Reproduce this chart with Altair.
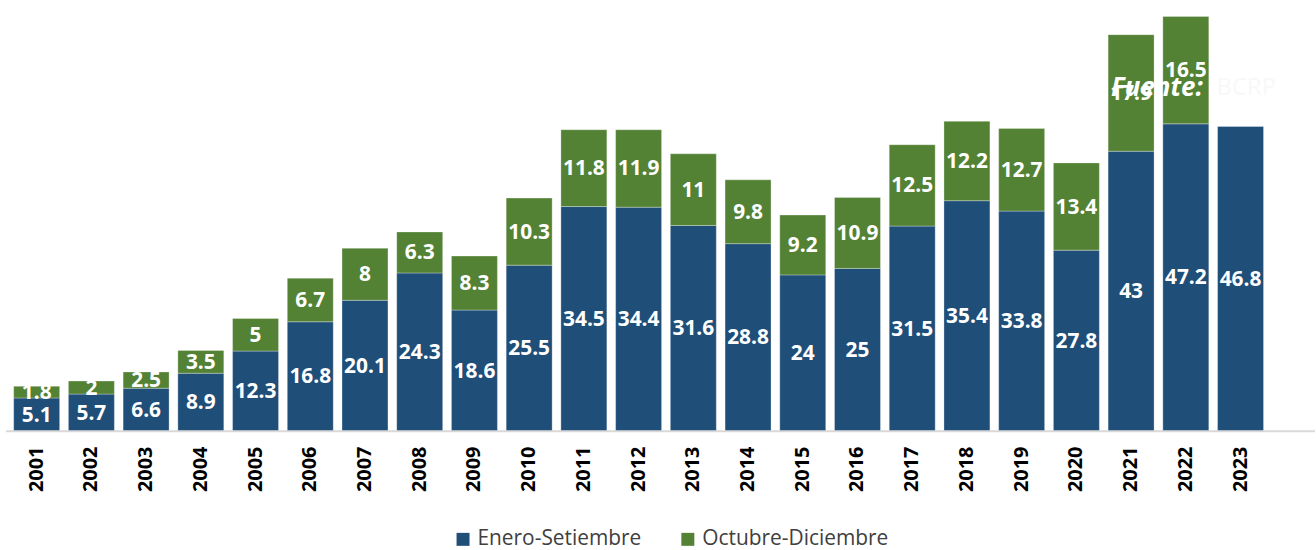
import altair as alt
import pandas as pd

years = [str(y) for y in range(2001, 2024)]
enero = [5.1, 5.7, 6.6, 8.9, 12.3, 16.8, 20.1, 24.3, 18.6, 25.5, 34.5, 34.4, 31.6,
         28.8, 24, 25, 31.5, 35.4, 33.8, 27.8, 43, 47.2, 46.8]
octdic = [1.8, 2, 2.5, 3.5, 5, 6.7, 8, 6.3, 8.3, 10.3, 11.8, 11.9, 11, 9.8, 9.2,
          10.9, 12.5, 12.2, 12.7, 13.4, 17.9, 16.5, None]
series = ["Enero-Setiembre", "Octubre-Diciembre"]
colors = ["#1F4E79", "#548235"]

rows = []
for i, y in enumerate(years):
    rows.append({"year": y, "serie": series[0], "ord": 0, "value": enero[i],
                 "label": f"{enero[i]:g}"})
    if octdic[i] is not None:
        rows.append({"year": y, "serie": series[1], "ord": 1, "value": octdic[i],
                     "label": f"{octdic[i]:g}"})
df = pd.DataFrame(rows)

W, H = 1262, 432
FONT = "Open Sans"

base = alt.Chart(df).transform_stack(
    stack="value", groupby=["year"], as_=["y0", "y1"],
    sort=[alt.SortField("ord", order="ascending")]
).transform_calculate(mid="(datum.y0 + datum.y1) / 2")

xenc = alt.X("year:N", title=None, sort=years,
             scale=alt.Scale(paddingInner=0.16, paddingOuter=0.05),
             axis=alt.Axis(labelAngle=-90, labelFont=FONT,
                           labelFontWeight="bold", labelFontSize=20,
                           labelColor="#000000", ticks=False, domain=False,
                           labelPadding=15, labelBaseline="middle",
                           labelAlign="right", grid=False))
yscale = alt.Scale(domain=[0, 66], nice=False)

bars = base.mark_bar(stroke="#ffffff", strokeWidth=0.6, strokeOpacity=0.5).encode(
    x=xenc,
    y=alt.Y("y0:Q", scale=yscale, axis=None),
    y2="y1:Q",
    color=alt.Color("serie:N", scale=alt.Scale(domain=series, range=colors),
                    legend=alt.Legend(title=None, orient="none", direction="horizontal",
                                      legendX=444, legendY=530, symbolType="square",
                                      symbolSize=170, symbolStrokeWidth=0,
                                      labelFont=FONT, labelFontSize=21, labelLimit=0,
                                      labelColor="#404040", columnPadding=36,
                                      symbolOffset=0, labelOffset=4)),
)

labels = base.mark_text(color="white", font=FONT, fontWeight="bold",
                        fontSize=21, baseline="middle", align="center", dy=1).encode(
    x=alt.X("year:N", sort=years),
    y=alt.Y("mid:Q", scale=yscale),
    text="label:N",
)

baseline = alt.Chart(pd.DataFrame({"v": [0]})).mark_rule(
    color="#d9d9d9", strokeWidth=2).encode(
    x=alt.value(-5), x2=alt.value(1311), y=alt.Y("v:Q", scale=yscale))

src = alt.Chart(pd.DataFrame({"t": ["Fuente:"]})).mark_text(
    color="white", font=FONT, fontWeight="bold", fontStyle="italic",
    fontSize=26, align="left", baseline="middle").encode(
    x=alt.value(1106), y=alt.value(87), text="t:N")
src2 = alt.Chart(pd.DataFrame({"t": ["BCRP"]})).mark_text(
    color="#f8f8f8", font=FONT, fontSize=24, align="left",
    baseline="middle").encode(x=alt.value(1212), y=alt.value(87), text="t:N")

chart = alt.layer(bars, baseline, labels, src, src2).properties(
    width=W, height=H,
    padding={"left": 5, "top": 0, "right": 0, "bottom": 0},
).configure(background="white").configure_view(stroke=None, strokeWidth=0)

chart.save("out.html", embed_options={"renderer": "svg", "actions": False})
